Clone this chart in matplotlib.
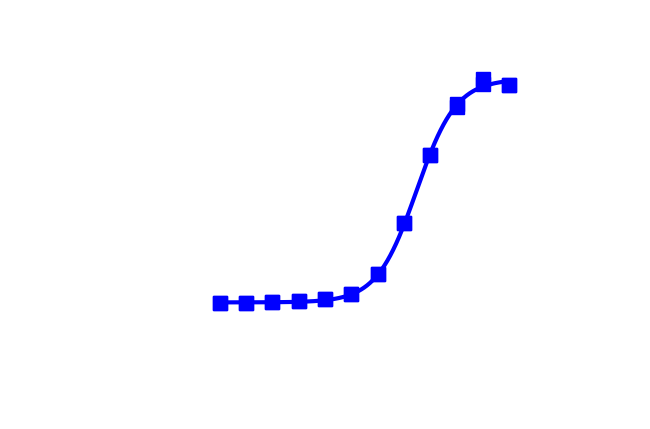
import numpy as np
import matplotlib
matplotlib.use("Agg")
import matplotlib.pyplot as plt

# dopamine concentrations (log10 M), 3-fold dilution series
log_conc = [-10.41, -9.93, -9.46, -8.98, -8.50, -8.03,
            -7.55, -7.07, -6.60, -6.12, -5.64, -5.17]
# two replicates (RLU)
rep1 = [39300, 39300, 40700, 42500, 45200, 51600,
        79000, 148900, 242900, 313000, 347000, 338000]
rep2 = [39300, 39300, 40700, 42500, 45200, 51600,
        79000, 148900, 242900, 308900, 340300, 338000]

x_ticks = [1e-12, 1e-11, 1e-10, 1e-9, 1e-8, 1e-7, 1e-6, 1e-5, 1e-4]
y_ticks = [0, 100000, 200000, 300000, 400000]


def fit_4pl(lx, y):
    # grid over logEC50 / hill, linear least squares for bottom / top
    best = None
    for ec in np.arange(-8.5, -5.5, 0.01):
        for h in np.arange(0.4, 2.5, 0.01):
            f = 1.0 / (1.0 + 10 ** ((ec - lx) * h))
            A = np.column_stack([np.ones_like(f), f])
            coef, res, _, _ = np.linalg.lstsq(A, y, rcond=None)
            err = np.sum((A @ coef - y) ** 2)
            if best is None or err < best[0]:
                best = (err, coef[0], coef[0] + coef[1], ec, h)
    return best[1:]


lx = np.array(log_conc * 2)
yy = np.array(rep1 + rep2, dtype=float)
bottom, top, ec50, hill = fit_4pl(lx, yy)
xs = np.linspace(min(log_conc), max(log_conc), 300)
ys = bottom + (top - bottom) / (1 + 10 ** ((ec50 - xs) * hill))

plt.rcParams['font.family'] = ['Liberation Sans', 'DejaVu Sans']
plt.rcParams['font.weight'] = 'bold'

fig = plt.figure(figsize=(6.5, 4.29), dpi=100)
ax = fig.add_axes([132 / 650, 1 - 343 / 429, (574 - 132) / 650, (343 - 40) / 429])
ax.set_xscale('log')
ax.plot(10 ** xs, ys, color='#0000ff', lw=3)
conc = 10 ** np.array(log_conc)
ax.plot(conc, rep1, 's', color='#0000ff', ms=9.5)
ax.plot(conc, rep2, 's', color='#0000ff', ms=9.5)

ax.set_xlim(1e-12, 1e-4)
ax.set_ylim(-15000, 400000)
ax.set_xticks(x_ticks)
ax.set_yticks(y_ticks)
ax.minorticks_off()
ax.tick_params(colors='white', labelsize=15, width=1.5)
for s in ax.spines.values():
    s.set_color('white')
ax.spines['top'].set_visible(False)
ax.spines['right'].set_visible(False)
ax.set_xlabel('Dopamine, M', color='white', fontsize=15, fontweight='bold')
ax.set_ylabel('RLU', color='white', fontsize=15, fontweight='bold')

fig.savefig('out.png', dpi=100)
